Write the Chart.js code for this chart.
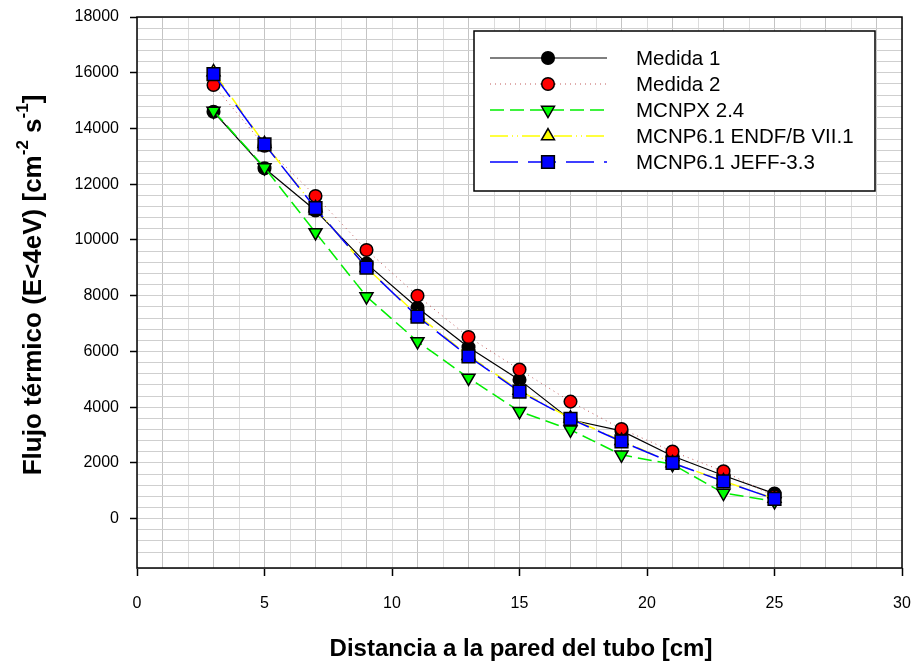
<!DOCTYPE html>
<html>
<head>
<meta charset="utf-8">
<script src="https://cdn.jsdelivr.net/npm/chart.js@4"></script>
<style>
  body { margin: 0; background: #fff; }
  #wrap { width: 913px; height: 664px; }
</style>
</head>
<body>
<div id="wrap"><canvas id="chart"></canvas></div>
<script>
// distance from tube wall [cm]
const distancias = [3, 5, 7, 9, 11, 13, 15, 17, 19, 21, 23, 25];

// thermal flux values
const medida1 = [14600, 12570, 11060, 9150, 7570, 6150, 4980, 3550, 3150, 2250, 1550, 900];
const medida2 = [15560, 13380, 11580, 9640, 8000, 6520, 5350, 4200, 3220, 2410, 1700, 800];
const mcnpx = [14630, 12600, 10270, 7970, 6360, 5050, 3850, 3190, 2290, 1950, 920, 620];
const endf = [16030, 13450, 11150, 9000, 7300, 5850, 4600, 3600, 2800, 2000, 1350, 720];
const jeff = [15950, 13430, 11140, 9010, 7250, 5820, 4560, 3580, 2770, 2000, 1340, 710];

const seriesNames = ["Medida 1", "Medida 2", "MCNPX 2.4", "MCNP6.1 ENDF/B VII.1", "MCNP6.1 JEFF-3.3"];
const xTickLabels = [0, 5, 10, 15, 20, 25, 30];
const yTickLabels = [0, 2000, 4000, 6000, 8000, 10000, 12000, 14000, 16000, 18000];

const FONT = "'Liberation Sans', Arial, sans-serif";

const toPoints = (vals) => vals.map((v, i) => ({ x: distancias[i], y: v }));

const datasets = [
  {
    label: seriesNames[0], data: toPoints(medida1),
    borderColor: "#000", borderWidth: 1.2, borderDash: [],
    pointStyle: "circle", pointRadius: 6.3, pointBackgroundColor: "#000", order: 5,
  },
  {
    label: seriesNames[1], data: toPoints(medida2),
    borderColor: "#c05858", borderWidth: 1, borderDash: [1, 4],
    pointStyle: "circle", pointRadius: 6.3, pointBackgroundColor: "#ff0000", order: 4,
  },
  {
    label: seriesNames[2], data: toPoints(mcnpx),
    borderColor: "#00ee00", borderWidth: 1.5, borderDash: [14, 6],
    pointStyle: "triangle", pointRotation: 180, pointRadius: 7.5, pointBackgroundColor: "#00ff00", order: 3,
  },
  {
    label: seriesNames[3], data: toPoints(endf),
    borderColor: "#ffff00", borderWidth: 1.5, borderDash: [18, 4, 1, 4, 1, 4],
    pointStyle: "triangle", pointRotation: 0, pointRadius: 7.5, pointBackgroundColor: "#ffff00", order: 2,
  },
  {
    label: seriesNames[4], data: toPoints(jeff),
    borderColor: "#0000ff", borderWidth: 1.5, borderDash: [28, 10],
    pointStyle: "rect", pointRadius: 9, pointBackgroundColor: "#0000ff", order: 1,
  },
];
datasets.forEach((d) => {
  d.pointBorderColor = "#000";
  d.pointBorderWidth = 1.5;
  d.pointHoverRadius = d.pointRadius;
  d.fill = false;
  d.tension = 0;
});

// frame around the plot area
const framePlugin = {
  id: "frame",
  beforeDatasetsDraw(chart) {
    const { ctx, chartArea: a } = chart;
    ctx.save();
    ctx.strokeStyle = "#000";
    ctx.lineWidth = 1.5;
    ctx.strokeRect(a.left, a.top, a.right - a.left, a.bottom - a.top);
    ctx.restore();
  },
};

function drawRich(ctx, parts, x, y, size, supSize, raise) {
  // parts: [text, isSup]
  let total = 0;
  parts.forEach(([t, sup]) => {
    ctx.font = `bold ${sup ? supSize : size}px ${FONT}`;
    total += ctx.measureText(t).width;
  });
  let cx = x - total / 2;
  parts.forEach(([t, sup]) => {
    ctx.font = `bold ${sup ? supSize : size}px ${FONT}`;
    ctx.fillText(t, cx, sup ? y - raise : y);
    cx += ctx.measureText(t).width;
  });
}

const titlesPlugin = {
  id: "titles",
  afterDraw(chart) {
    const { ctx } = chart;
    ctx.save();
    ctx.fillStyle = "#000";
    ctx.textBaseline = "alphabetic";
    ctx.textAlign = "left";
    drawRich(ctx, [["Distancia a la pared del tubo [cm]", false]], 521, 656, 24, 16, 0);
    ctx.translate(41, 285);
    ctx.rotate(-Math.PI / 2);
    drawRich(ctx, [["Flujo térmico (E<4eV) [cm", false], ["-2", true], [" s", false], ["-1", true], ["]", false]], 0, 0, 26, 17, 13);
    ctx.restore();
  },
};

const legendPlugin = {
  id: "boxLegend",
  afterDraw(chart) {
    const ctx = chart.ctx;
    ctx.save();
    ctx.fillStyle = "#fff";
    ctx.fillRect(474, 31, 401, 160);
    ctx.strokeStyle = "#000";
    ctx.lineWidth = 1.5;
    ctx.strokeRect(474, 31, 401, 160);
    const rows = [58, 84, 110, 136, 162];
    datasets.forEach((d, i) => {
      const y = rows[i];
      ctx.save();
      ctx.strokeStyle = d.borderColor;
      ctx.lineWidth = d.borderWidth;
      ctx.setLineDash(d.borderDash);
      ctx.beginPath();
      ctx.moveTo(490, y);
      ctx.lineTo(607, y);
      ctx.stroke();
      ctx.restore();
      ctx.fillStyle = d.pointBackgroundColor;
      ctx.strokeStyle = "#000";
      ctx.lineWidth = 1.5;
      Chart.helpers.drawPoint(ctx, {
        pointStyle: d.pointStyle, radius: d.pointRadius,
        rotation: d.pointRotation || 0, borderWidth: 1.5,
      }, 548, y);
      ctx.fillStyle = "#000";
      ctx.font = `20.5px ${FONT}`;
      ctx.textBaseline = "middle";
      ctx.textAlign = "left";
      ctx.fillText(d.label, 636, y + 1);
    });
    ctx.restore();
  },
};

new Chart(document.getElementById("chart"), {
  type: "line",
  data: { datasets },
  plugins: [framePlugin, titlesPlugin, legendPlugin],
  options: {
    responsive: true,
    maintainAspectRatio: false,
    animation: false,
    events: [],
    layout: { padding: { top: 17, right: 11, left: 0, bottom: 0 } },
    plugins: { legend: { display: false }, tooltip: { enabled: false } },
    scales: {
      x: {
        type: "linear",
        min: 0,
        max: 30,
        afterFit: (s) => { s.height = 96; s.paddingLeft = 0; s.paddingRight = 0; },
        border: { display: false },
        grid: {
          color: (c) => (c.tick && c.tick.value % 2 ? "#c4c4c4" : "#dcdcdc"),
          lineWidth: 1,
          tickLength: 8,
          tickWidth: 1.5,
          tickColor: (c) => (c.tick && xTickLabels.includes(c.tick.value) ? "#000" : "rgba(0,0,0,0)"),
        },
        ticks: {
          stepSize: 1,
          autoSkip: false,
          maxRotation: 0,
          padding: 18,
          color: "#000",
          font: { family: FONT, size: 16 },
          callback: (v) => (xTickLabels.includes(v) ? String(v) : ""),
        },
      },
      y: {
        min: -1770,
        max: 18000,
        afterFit: (s) => { s.width = 137; s.paddingTop = 0; s.paddingBottom = 0; },
        border: { display: false },
        grid: {
          color: "#cfcfcf",
          lineWidth: 1,
          tickLength: 7,
          tickWidth: 1.5,
          tickColor: (c) => (c.tick && yTickLabels.includes(c.tick.value) ? "#000" : "rgba(0,0,0,0)"),
        },
        ticks: {
          stepSize: 400,
          autoSkip: false,
          padding: 11,
          color: "#000",
          font: { family: FONT, size: 16 },
          callback: (v) => (yTickLabels.includes(v) ? String(v) : ""),
        },
      },
    },
  },
});
</script>
</body>
</html>
